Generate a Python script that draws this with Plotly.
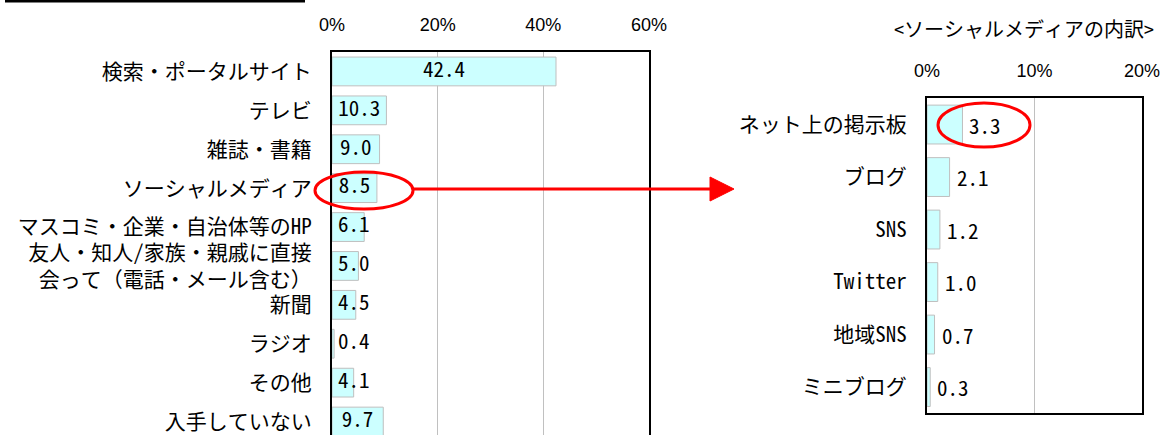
import plotly.graph_objects as go

# ---------------- data ----------------
left_categories = [
    "検索・ポータルサイト", "テレビ", "雑誌・書籍", "ソーシャルメディア",
    "マスコミ・企業・自治体等のHP", "友人・知人/家族・親戚に直接<br>会って（電話・メール含む）",
    "新聞", "ラジオ", "その他", "入手していない",
]
left_values = [42.4, 10.3, 9.0, 8.5, 6.1, 5.0, 4.5, 0.4, 4.1, 9.7]
left_tick_values = [0, 20, 40, 60]
left_tick_labels = ["0%", "20%", "40%", "60%"]

right_categories = ["ネット上の掲示板", "ブログ", "SNS", "Twitter", "地域SNS", "ミニブログ"]
right_values = [3.3, 2.1, 1.2, 1.0, 0.7, 0.3]
right_tick_values = [0, 10, 20]
right_tick_labels = ["0%", "10%", "20%"]
right_title = "<ソーシャルメディアの内訳>"

# ---------------- layout helpers ----------------
W, H = 1165, 435
def px(x):
    return x / W
def py(y):
    return 1 - y / H

CJK = "Noto Sans Mono CJK JP, Noto Sans CJK JP, sans-serif"
NARROW = "Liberation Sans Narrow, Arial Narrow, Liberation Sans, sans-serif"
BAR_FILL = "#CCFFFF"
BAR_LINE = "#BFBFBF"

fig = go.Figure()

fig.add_trace(go.Bar(
    x=left_values, y=left_categories, orientation="h",
    marker=dict(color=BAR_FILL, line=dict(color=BAR_LINE, width=1)),
    xaxis="x", yaxis="y", hoverinfo="skip",
))
fig.add_trace(go.Scatter(
    x=[max(v / 2, 4.1) for v in left_values], y=left_categories, mode="text",
    text=[f"{v:.1f}" for v in left_values], textposition="middle center",
    textfont=dict(family=CJK, size=21, color="black"),
    xaxis="x", yaxis="y", hoverinfo="skip",
))

fig.add_trace(go.Bar(
    x=right_values, y=right_categories, orientation="h",
    marker=dict(color=BAR_FILL, line=dict(color=BAR_LINE, width=1)),
    xaxis="x2", yaxis="y2", hoverinfo="skip",
))
for cat, v in zip(right_categories, right_values):
    fig.add_annotation(
        x=v, y=cat, xref="x2", yref="y2", xanchor="left", yanchor="middle",
        xshift=5, text=f"{v:.1f}", showarrow=False,
        font=dict(family=CJK, size=21, color="black"),
    )

axis_common = dict(showgrid=True, gridcolor="#C0C0C0", gridwidth=1, zeroline=False,
                   showline=True, linecolor="black", linewidth=2, fixedrange=True,
                   automargin=False)

fig.update_layout(
    width=W, height=H,
    margin=dict(l=0, r=0, t=0, b=0, pad=0),
    paper_bgcolor="white", plot_bgcolor="white",
    showlegend=False, bargap=0.26,
    xaxis=dict(
        domain=[px(332), px(649)], range=[0, 60], side="top", anchor="y",
        tickvals=left_tick_values, ticktext=left_tick_labels,
        ticks="outside", ticklen=12, tickcolor="rgba(0,0,0,0)",
        tickfont=dict(family=NARROW, size=18, color="black"),
        mirror=False, **axis_common,
    ),
    yaxis=dict(
        domain=[0, py(52)], range=[9.346, -0.5], anchor="x", type="category",
        ticks="outside", ticklen=14, tickcolor="rgba(0,0,0,0)",
        tickfont=dict(family=CJK, size=21, color="black"),
        showgrid=False, zeroline=False, showline=True, linecolor="black",
        linewidth=2, mirror=True, fixedrange=True, automargin=False,
    ),
    xaxis2=dict(
        domain=[px(927), px(1142)], range=[0, 20], side="top", anchor="y2",
        tickvals=right_tick_values, ticktext=right_tick_labels,
        ticks="outside", ticklen=12, tickcolor="rgba(0,0,0,0)",
        tickfont=dict(family=NARROW, size=18, color="black"),
        mirror="allticks", **axis_common,
    ),
    yaxis2=dict(
        domain=[py(413.3), py(98.3)], range=[5.5, -0.5], anchor="x2", type="category",
        ticks="outside", ticklen=14, tickcolor="rgba(0,0,0,0)",
        tickfont=dict(family=CJK, size=21, color="black"),
        showgrid=False, zeroline=False, showline=True, linecolor="black",
        linewidth=2, mirror=True, fixedrange=True, automargin=False,
    ),
)

# title of right panel
fig.add_annotation(
    x=px(1156), y=py(28), xref="paper", yref="paper", xanchor="right", yanchor="middle",
    text=right_title.replace("<", "&lt;").replace(">", "&gt;"), showarrow=False,
    font=dict(family=CJK, size=20, color="black"),
)

shapes = []
# top-left black rule
shapes.append(dict(type="line", xref="paper", yref="paper",
                   x0=px(5), x1=px(305), y0=py(1), y1=py(1),
                   line=dict(color="black", width=3)))
# red ellipses
shapes.append(dict(type="circle", xref="paper", yref="paper",
                   x0=px(315), x1=px(413), y0=py(209), y1=py(172),
                   line=dict(color="#FF0000", width=3)))
shapes.append(dict(type="circle", xref="paper", yref="paper",
                   x0=px(938), x1=px(1030), y0=py(147), y1=py(103),
                   line=dict(color="#FF0000", width=3)))
# arrow line
shapes.append(dict(type="line", xref="paper", yref="paper",
                   x0=px(413), x1=px(712), y0=py(189), y1=py(189),
                   line=dict(color="#FF0000", width=3)))
# arrow head
shapes.append(dict(type="path", xref="paper", yref="paper",
                   path=f"M {px(710)},{py(177)} L {px(734)},{py(189)} L {px(710)},{py(201)} Z",
                   fillcolor="#FF0000", line=dict(color="#FF0000", width=1)))
fig.update_layout(shapes=shapes)

fig.write_html(
    "out.html",
    config={"displayModeBar": False},
    post_script="document.body.style.margin='0';document.body.style.overflow='hidden';",
)
